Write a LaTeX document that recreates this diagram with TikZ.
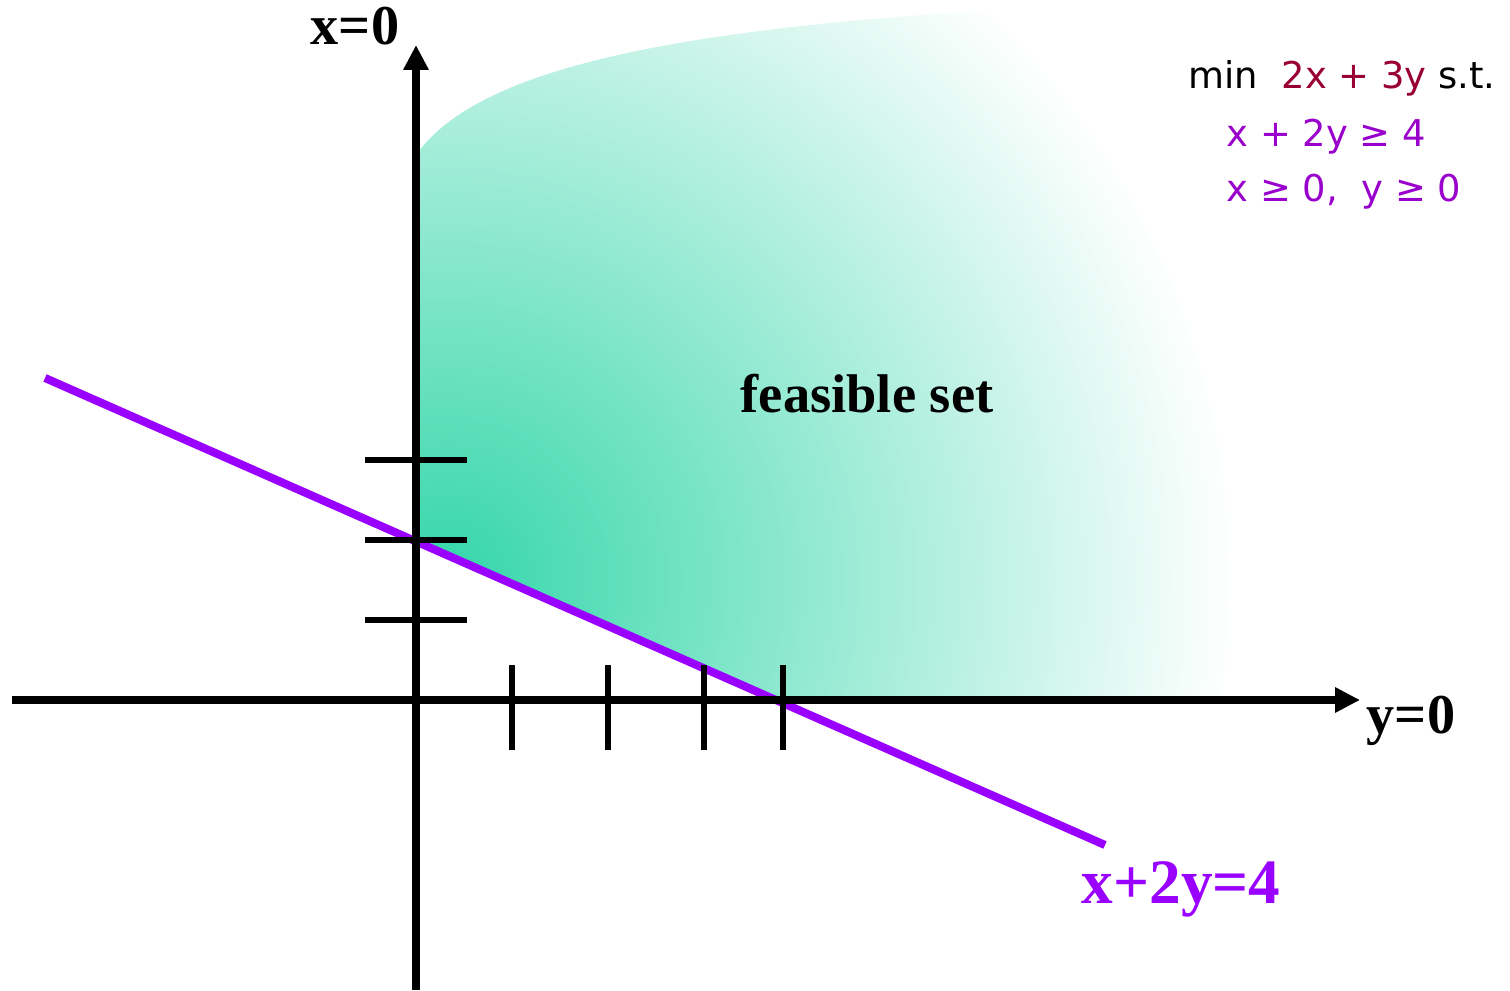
\documentclass[tikz,border=0pt]{standalone}
\usepackage{fontspec}
\setmainfont{Liberation Serif}
\newfontfamily\comicfont{DejaVu Sans}
\usepackage{xcolor}
\usepackage{tikz}
\usetikzlibrary{arrows.meta,positioning}

\definecolor{feasgreen}{RGB}{52,214,170}
\definecolor{linepurple}{RGB}{153,0,255}
\definecolor{conpurple}{RGB}{153,0,204}
\definecolor{objred}{RGB}{153,0,51}
\pgfdeclareradialshading{feasfade}{\pgfpoint{0bp}{0bp}}{color(0bp)=(feasgreen); color(25bp)=(white); color(50bp)=(white)}

\begin{document}
\begin{tikzpicture}[
    axis/.style={line width=2.1pt, -{Triangle[length=2.5mm, width=2.4mm]}},
    tickmark/.style={line width=1.8pt},
    constraint/.style={line width=2.3pt, draw=linepurple},
    axlabel/.style={font=\bfseries\fontsize{16}{19}\selectfont, inner sep=0pt},
    lplabel/.style={font=\comicfont\fontsize{10.5}{13}\selectfont, inner sep=0pt, anchor=base west}
  ]
    \useasboundingbox (-4.16,-2.90) rectangle (10.94,7.00);

    \begin{scope}
      \clip (0,1.6) -- (3.67,0) -- (9.5,0) -- (9.5,7) -- (5.8,7) -- (5.8,6.9)
            .. controls (2.5,6.7) and (0.6,6.3) .. (0,5.45) -- cycle;
      \shade[shading=feasfade] (0.3,1.2) circle (7.9);
    \end{scope}

    \coordinate (lineL) at (-3.71,3.22);
    \coordinate (lineR) at (6.89,-1.45);
    \draw[constraint] (lineL) -- (lineR);

    \coordinate (xaxL) at (-4.04,0);
    \coordinate (xaxR) at (9.44,0);
    \coordinate (yaxB) at (0,-2.9);
    \coordinate (yaxT) at (0,6.55);
    \draw[axis] (xaxL) -- (xaxR);
    \draw[axis] (yaxB) -- (yaxT);

    \foreach \ty in {0.8,1.6,2.4}
      \draw[tickmark] (-0.51,\ty) -- (0.51,\ty);
    \foreach \tx in {0.96,1.92,2.88,3.67}
      \draw[tickmark] (\tx,0.35) -- (\tx,-0.5);

    \node[axlabel, anchor=base] (xlab) at (-0.61,6.55) {x=0};
    \node[axlabel, anchor=base] (ylab) at (9.95,-0.33) {y=0};
    \node[axlabel, anchor=base, font=\bfseries\fontsize{15.5}{18}\selectfont] (feas) at (4.51,2.87) {feasible set};
    \node[axlabel, anchor=base, text=linepurple, font=\bfseries\fontsize{18}{21}\selectfont] (lineeq) at (7.65,-2.03) {x+2y=4};

    \node[lplabel] (objfun) at (7.72,6.11) {min\ \ \textcolor{objred}{2x + 3y} s.t.};
    \node[lplabel, text=conpurple] (cons1) at (8.10,5.53) {x + 2y ≥ 4};
    \node[lplabel, text=conpurple] (cons2) at (8.10,4.98) {x ≥ 0,\ \ y ≥ 0};
  \end{tikzpicture}
\end{document}
